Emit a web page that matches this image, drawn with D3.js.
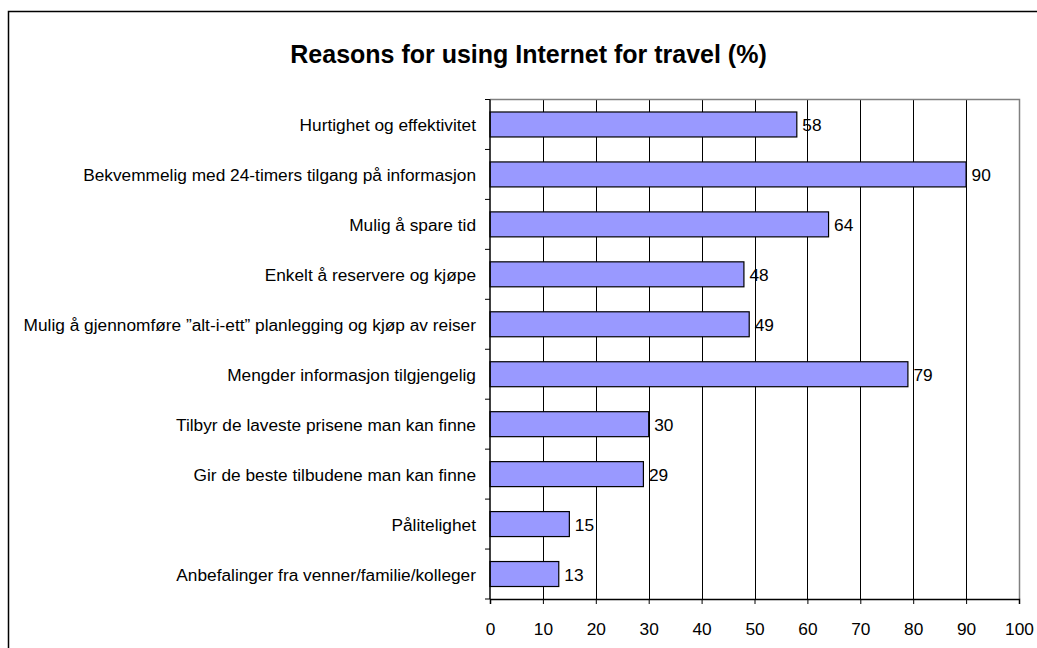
<!DOCTYPE html>
<html><head><meta charset="utf-8">
<script src="https://cdn.jsdelivr.net/npm/d3@7"></script>
<style>body{margin:0;background:#fff}svg{display:block}text{font-family:Arial,"Liberation Sans",sans-serif}</style>
</head><body>
<svg id="c" width="1037" height="648"></svg>
<script>
const categories = ["Hurtighet og effektivitet","Bekvemmelig med 24-timers tilgang på informasjon","Mulig å spare tid","Enkelt å reservere og kjøpe","Mulig å gjennomføre \u201dalt-i-ett\u201d planlegging og kjøp av reiser","Mengder informasjon tilgjengelig","Tilbyr de laveste prisene man kan finne","Gir de beste tilbudene man kan finne","Pålitelighet","Anbefalinger fra venner/familie/kolleger"];
const values = [58,90,64,48,49,79,30,29,15,13];
const xTicks = [0,10,20,30,40,50,60,70,80,90,100];
const title = "Reasons for using Internet for travel (%)";

const FS = 17.3;
const svg = d3.select("#c");
svg.append("rect").attr("x",8.5).attr("y",11.5).attr("width",1040).attr("height",660)
  .attr("fill","none").attr("stroke","#000").attr("stroke-width",1.5);
svg.append("text").attr("x",528.5).attr("y",63).attr("text-anchor","middle")
  .attr("font-size",25).attr("font-weight","bold").text(title);

const L=490,R=1019,T=99.5,B=599;
const x = d3.scaleLinear().domain([0,100]).range([L,R]);
const y = d3.scaleBand().domain(categories).range([T,B]).paddingInner(0.5).paddingOuter(0.25);

// gridlines
svg.append("g").selectAll("line").data(xTicks.slice(1)).join("line")
  .attr("x1",d=>Math.round(x(d))+0.5).attr("x2",d=>Math.round(x(d))+0.5)
  .attr("y1",T).attr("y2",B).attr("stroke","#000").attr("stroke-width",1);
// plot border top/right gray
svg.append("path").attr("d",`M${L},${T}H${R+0.5}V${B}`).attr("fill","none").attr("stroke","#808080").attr("stroke-width",1.5);

// bars
svg.append("g").selectAll("rect").data(values).join("rect")
  .attr("x",x(0)).attr("y",(d,i)=>y(categories[i]))
  .attr("width",d=>x(d)-x(0)).attr("height",y.bandwidth())
  .attr("fill","#9999FF").attr("stroke","#000").attr("stroke-width",1.2);
svg.append("g").selectAll("text").data(values).join("text")
  .attr("x",d=>x(d)+5.5).attr("y",(d,i)=>y(categories[i])+y.bandwidth()/2+6.5)
  .attr("font-size",FS).text(d=>d);

// x axis
const xa = svg.append("g").attr("transform",`translate(0,${B})`)
  .call(d3.axisBottom(x).tickValues(xTicks).tickSize(5).tickPadding(19));
xa.select(".domain").attr("stroke","#000").attr("stroke-width",1.5);
xa.selectAll(".tick line").attr("stroke","#000");
xa.selectAll("text").attr("font-size",FS).attr("font-family","Arial,'Liberation Sans',sans-serif");

// y axis
const step = (B-T)/categories.length;
svg.append("line").attr("x1",L).attr("x2",L).attr("y1",T).attr("y2",B).attr("stroke","#000").attr("stroke-width",1.5);
svg.append("g").selectAll("line").data(d3.range(categories.length+1)).join("line")
  .attr("x1",L-5).attr("x2",L).attr("y1",i=>T+i*step).attr("y2",i=>T+i*step).attr("stroke","#000");
svg.append("g").selectAll("text").data(categories).join("text")
  .attr("x",476).attr("y",d=>y(d)+y.bandwidth()/2+6.5).attr("text-anchor","end")
  .attr("font-size",FS).text(d=>d);
</script>
</body></html>
